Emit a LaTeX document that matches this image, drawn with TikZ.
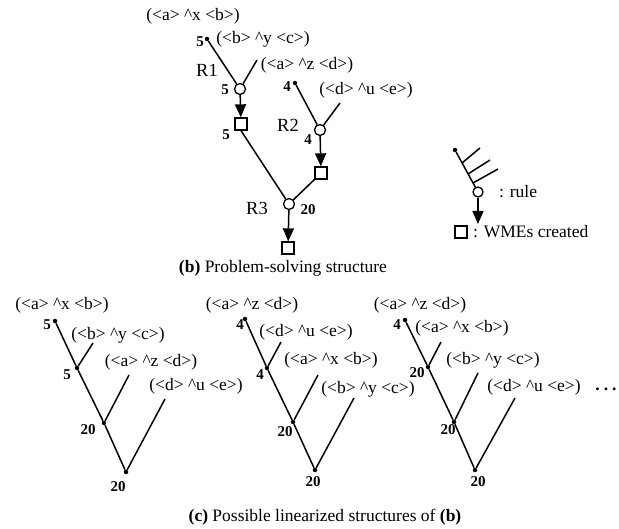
\documentclass[tikz,border=0pt]{standalone}
\usepackage{fontspec}
\setmainfont{Liberation Serif}
\usetikzlibrary{arrows.meta}
\newcommand{\wme}[3]{(<#1> \textasciicircum#2 <#3>)}
\tikzset{
  ln/.style={line width=1.5pt},
  txt/.style={inner sep=0pt, font=\fontsize{17.5}{19}\selectfont},
  num/.style={inner sep=0pt, font=\fontsize{15}{17}\selectfont\bfseries},
  rl/.style={inner sep=0pt, font=\fontsize{18.5}{20}\selectfont},
  dotn/.style={circle, fill=black, inner sep=0pt, minimum size=4.5pt},
  rulec/.style={circle, draw, line width=1.3pt, fill=white, inner sep=0pt, minimum size=11pt},
  wmesq/.style={rectangle, draw, line width=1.3pt, inner sep=0pt, minimum size=12pt},
  arr/.style={ln, -{Triangle[width=11pt,length=13pt]}},
}
\begin{document}
\begin{tikzpicture}[x=1pt,y=-1pt]
\useasboundingbox (0,0) rectangle (619,529);
% ---------- (b) problem-solving structure ----------
\node[dotn] (b1) at (207,39) {};
\node[rulec] (c1) at (240,89) {};
\coordinate (b1y) at (257,60);
\node[wmesq] (s1) at (241,124) {};
\node[dotn] (b2) at (295,83) {};
\node[rulec] (c2) at (320,130) {};
\coordinate (b2u) at (340,103);
\node[wmesq] (s2) at (321,173) {};
\node[rulec] (c3) at (289,204) {};
\node[wmesq] (s3) at (288,248) {};
\draw[ln] (b1) -- (c1);
\draw[ln] (b1y) -- (c1);
\draw[arr] (c1) -- (s1);
\draw[ln] (b2) -- (c2);
\draw[ln] (b2u) -- (c2);
\draw[arr] (c2) -- (s2);
\draw[ln] (s1.south) -- (c3);
\draw[ln] (s2.south west) -- (c3);
\draw[arr] (c3) -- (s3);
\node[txt] (tx1) at (193,16) {\wme{a}{x}{b}};
\node[num] (n1) at (200,42) {5};
\node[txt] (ty1) at (263,39) {\wme{b}{y}{c}};
\node[rl] (r1) at (207,70) {R1};
\node[txt] (tz1) at (307,65) {\wme{a}{z}{d}};
\node[num] (n2) at (225,90) {5};
\node[num] (n3) at (226,135) {5};
\node[num] (n4) at (287,87) {4};
\node[txt] (tu1) at (366,90) {\wme{d}{u}{e}};
\node[rl] (r2) at (288,125) {R2};
\node[num] (n5) at (308,140) {4};
\node[rl] (r3) at (257,208) {R3};
\node[num] (n6) at (308,210) {20};
\node[txt] (capb) at (283,268) {\textbf{(b)} Problem-solving structure};
% ---------- legend ----------
\node[dotn] (ld) at (455,150) {};
\node[rulec, minimum size=10pt] (lc) at (478,192) {};
\node[wmesq] (ls) at (461,232) {};
\coordinate (lt) at (478,224);
\coordinate (h1a) at (462,163); \coordinate (h1b) at (480,148);
\coordinate (h2a) at (468,174); \coordinate (h2b) at (490,160);
\coordinate (h3a) at (473,183); \coordinate (h3b) at (498,169);
\draw[ln] (ld) -- (lc);
\draw[ln] (h1a) -- (h1b);
\draw[ln] (h2a) -- (h2b);
\draw[ln] (h3a) -- (h3b);
\draw[arr] (lc) -- (lt);
\node[txt, anchor=west] (lrule) at (499,192) {: rule};
\node[txt, anchor=west] (lwme) at (473,232) {: WMEs created};
% ---------- (c) tree 1 ----------
\node[dotn] (a1) at (55,321) {};
\node[dotn] (a2) at (77,368) {};
\node[dotn] (a3) at (104,423) {};
\node[dotn] (a4) at (126,472) {};
\coordinate (a2t) at (93,343);
\coordinate (a3t) at (129,375);
\coordinate (a4t) at (165,399);
\draw[ln] (a1) -- (a2) -- (a3) -- (a4);
\draw[ln] (a2t) -- (a2);
\draw[ln] (a3t) -- (a3);
\draw[ln] (a4t) -- (a4);
\node[txt] (at1) at (62,305) {\wme{a}{x}{b}};
\node[num] (an1) at (47,325) {5};
\node[txt] (at2) at (118,335) {\wme{b}{y}{c}};
\node[num] (an2) at (67,375) {5};
\node[txt] (at3) at (151,362) {\wme{a}{z}{d}};
\node[num] (an3) at (88,430) {20};
\node[txt] (at4) at (196,386) {\wme{d}{u}{e}};
\node[num] (an4) at (118,487) {20};
% ---------- (c) tree 2 ----------
\node[dotn] (e1) at (245,319) {};
\node[dotn] (e2) at (267,368) {};
\node[dotn] (e3) at (293,422) {};
\node[dotn] (e4) at (315,470) {};
\coordinate (e2t) at (281,342);
\coordinate (e3t) at (318,375);
\coordinate (e4t) at (354,398);
\draw[ln] (e1) -- (e2) -- (e3) -- (e4);
\draw[ln] (e2t) -- (e2);
\draw[ln] (e3t) -- (e3);
\draw[ln] (e4t) -- (e4);
\node[txt] (et1) at (252,305) {\wme{a}{z}{d}};
\node[num] (en1) at (240,325) {4};
\node[txt] (et2) at (306,332) {\wme{d}{u}{e}};
\node[num] (en2) at (260,375) {4};
\node[txt] (et3) at (331,360) {\wme{a}{x}{b}};
\node[num] (en3) at (285,432) {20};
\node[txt] (et4) at (368,389) {\wme{b}{y}{c}};
\node[num] (en4) at (313,482) {20};
% ---------- (c) tree 3 ----------
\node[dotn] (f1) at (405,320) {};
\node[dotn] (f2) at (428,367) {};
\node[dotn] (f3) at (454,422) {};
\node[dotn] (f4) at (475,470) {};
\coordinate (f2t) at (441,342);
\coordinate (f3t) at (478,373);
\coordinate (f4t) at (515,398);
\draw[ln] (f1) -- (f2) -- (f3) -- (f4);
\draw[ln] (f2t) -- (f2);
\draw[ln] (f3t) -- (f3);
\draw[ln] (f4t) -- (f4);
\node[txt] (ft1) at (420,305) {\wme{a}{z}{d}};
\node[num] (fn1) at (397,325) {4};
\node[txt] (ft2) at (462,328) {\wme{a}{x}{b}};
\node[num] (fn2) at (417,373) {20};
\node[txt] (ft3) at (493,360) {\wme{b}{y}{c}};
\node[num] (fn3) at (448,430) {20};
\node[txt] (ft4) at (534,387) {\wme{d}{u}{e}};
\node[txt] (fdots) at (606,389) {\textbf{.\hspace{4pt}.\hspace{4pt}.}};
\node[num] (fn4) at (478,482) {20};
\node[txt] (capc) at (325,517) {\textbf{(c)} Possible linearized structures of \textbf{(b)}};
\end{tikzpicture}
\end{document}
